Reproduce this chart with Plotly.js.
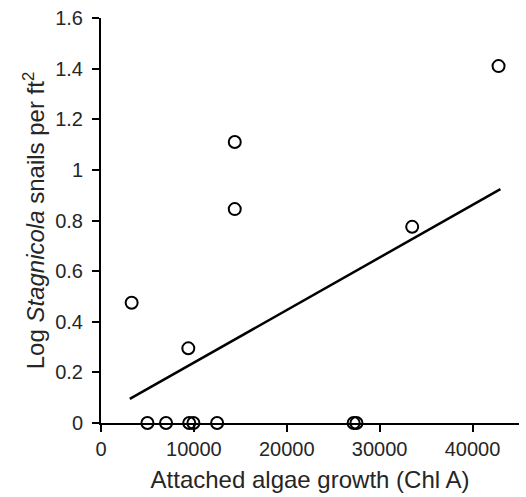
<!DOCTYPE html>
<html>
<head>
<meta charset="utf-8">
<script src="https://cdn.plot.ly/plotly-3.0.1.min.js"></script>
<style>html,body{margin:0;padding:0;background:#fff;}#chart{width:526px;height:497px;}</style>
</head>
<body>
<div id="chart"></div>
<script>
// Observed data: attached algae growth (Chl A) vs log snails per ft²
var algaeX = [3300, 9400, 14400, 14400, 33500, 42800, 5000, 7000, 9500, 9950, 12500, 27200, 27500];
var logSnails = [0.475, 0.295, 1.11, 0.845, 0.775, 1.41, 0, 0, 0, 0, 0, 0, 0];
// Linear trendline endpoints
var trendX = [3100, 43000];
var trendY = [0.095, 0.924];
var xTicks = [0, 10000, 20000, 30000, 40000];
var yTicks = [0, 0.2, 0.4, 0.6, 0.8, 1, 1.2, 1.4, 1.6];

var fontFam = 'Liberation Sans, Arial, sans-serif';
var txtColor = '#262626';

var traces = [
  {x: trendX, y: trendY, mode: 'lines', type: 'scatter',
   line: {color: '#000', width: 2.5}, hoverinfo: 'skip', cliponaxis: false},
  {x: algaeX, y: logSnails, mode: 'markers', type: 'scatter',
   marker: {symbol: 'circle-open', size: 12, color: '#000', line: {width: 2, color: '#000'}},
   cliponaxis: false}
];

var layout = {
  width: 526, height: 497,
  margin: {l: 101, r: 7, t: 18, b: 74},
  paper_bgcolor: '#fff', plot_bgcolor: '#fff',
  showlegend: false,
  font: {family: fontFam, size: 20, color: txtColor},
  xaxis: {
    range: [0, 45000], tickvals: xTicks, ticktext: xTicks.map(String),
    showgrid: false, zeroline: false, showline: true, linecolor: '#000', linewidth: 2,
    ticks: 'outside', ticklen: 7, tickwidth: 2, tickcolor: '#000',
    tickfont: {family: fontFam, size: 20, color: txtColor},
    title: {text: 'Attached algae growth (Chl A)', font: {family: fontFam, size: 24, color: txtColor}, standoff: 12}
  },
  yaxis: {
    range: [0, 1.6], tickvals: yTicks, ticktext: yTicks.map(String),
    showgrid: false, zeroline: false, showline: true, linecolor: '#000', linewidth: 2,
    ticks: 'outside', ticklen: 7, tickwidth: 2, tickcolor: '#000', ticklabelstandoff: 5,
    tickfont: {family: fontFam, size: 20, color: txtColor},
    title: {text: 'Log <i>Stagnicola</i> snails per ft<sup>2</sup>', font: {family: fontFam, size: 24, color: txtColor}, standoff: 4}
  }
};

Plotly.newPlot('chart', traces, layout, {staticPlot: true, displayModeBar: false});
</script>
</body>
</html>
